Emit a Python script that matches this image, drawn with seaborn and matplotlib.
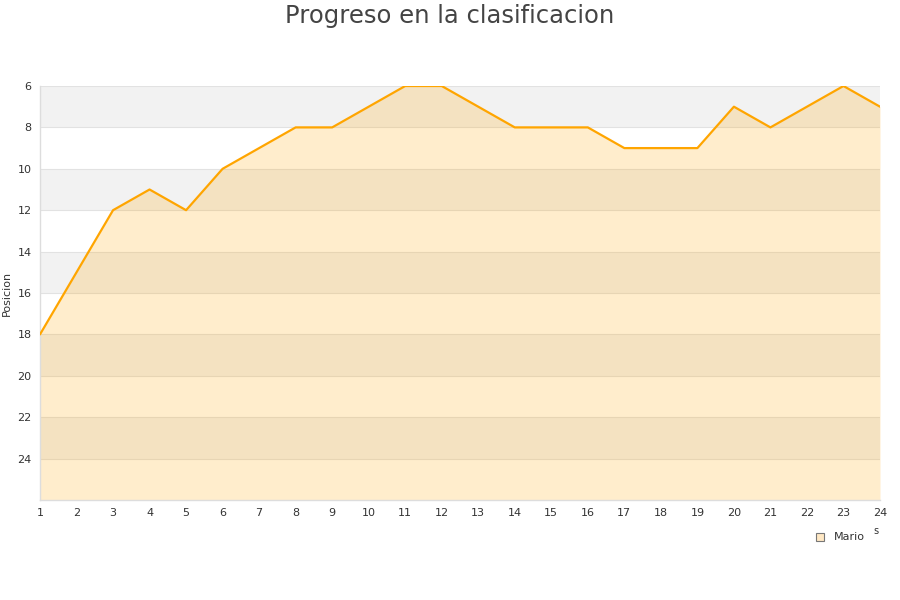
#Progreso en la clasificacion

import pandas as pd
import matplotlib
matplotlib.use('Agg')
import matplotlib.pyplot as plt
import seaborn as sb

jornadas = list(range(1, 25))
posicion = [18, 15, 12, 11, 12, 10, 9, 8, 8, 7, 6, 6, 7, 8, 8, 8, 9, 9, 9, 7, 8, 7, 6, 7]
yticks = list(range(6, 26, 2))

df = pd.DataFrame({'Jornada': jornadas, 'Posicion': posicion})

sb.set_style('white')
plt.rcParams['font.family'] = ['DejaVu Sans']

fig = plt.figure(figsize = (9, 6), dpi = 100)
ax = fig.add_axes([40 / 900, 1 - 500 / 600, 840 / 900, 414 / 600])

#bandas alternas
for i, y0 in enumerate(range(6, 26, 2)):
    if i % 2 == 0:
        ax.axhspan(y0, y0 + 2, color = '#f2f2f2', lw = 0, zorder = 0)

for y in yticks:
    ax.axhline(y, color = '#e2e2e2', lw = 0.8, zorder = 1)

ax.fill_between(df['Jornada'], df['Posicion'], 26,
                color = '#ffa500', alpha = 0.2, lw = 0, zorder = 2)

sb.lineplot(x = 'Jornada',
            y = 'Posicion',
            data = df,
            color = '#ffa500',
            lw = 1.6,
            ax = ax,
            zorder = 3)

ax.set_xlim(1, 24)
ax.set_ylim(26, 6)
ax.set(xticks = jornadas, yticks = yticks)
ax.tick_params(axis = 'both', labelsize = 8, colors = '#333333', length = 0, pad = 6)
ax.set_xlabel('')
ax.set_ylabel('Posicion', fontsize = 8, color = '#333333')

for s in ['top', 'right']:
    ax.spines[s].set_visible(False)
for s in ['left', 'bottom']:
    ax.spines[s].set_color('#dddddd')
    ax.spines[s].set_linewidth(1)

fig.suptitle('Progreso en la clasificacion', fontsize = 17.5, color = '#444444', y = 0.993)

#leyenda
fig.patches.append(plt.Rectangle((816 / 900, 1 - 541 / 600), 8 / 900, 8 / 600,
                                 transform = fig.transFigure, facecolor = '#ffe8c4',
                                 edgecolor = '#777777', lw = 0.8))
fig.text(834 / 900, 1 - 537 / 600, 'Mario', fontsize = 8, color = '#333333', va = 'center')
fig.text(873 / 900, 1 - 531 / 600, 's', fontsize = 7, color = '#333333', va = 'center')

fig.savefig('out.png', dpi = 100)
